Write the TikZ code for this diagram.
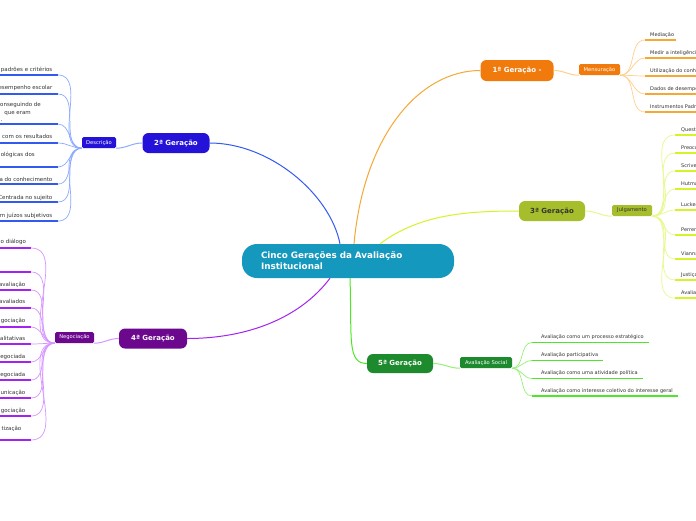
\documentclass[tikz,border=0pt]{standalone}
\usepackage{fontspec}
\setmainfont{DejaVu Sans}
\definecolor{txt}{RGB}{51,51,51}
\definecolor{mainc}{RGB}{21,152,190}
\definecolor{orN}{RGB}{240,122,12}
\definecolor{orL}{RGB}{246,168,52}
\definecolor{orF}{RGB}{255,208,140}
\definecolor{blN}{RGB}{37,18,216}
\definecolor{blL}{RGB}{50,90,240}
\definecolor{blF}{RGB}{140,170,255}
\definecolor{yeN}{RGB}{166,190,44}
\definecolor{yeL}{RGB}{215,242,40}
\definecolor{yeF}{RGB}{230,250,140}
\definecolor{puN}{RGB}{108,8,142}
\definecolor{puL}{RGB}{165,35,240}
\definecolor{puF}{RGB}{215,150,255}
\definecolor{grN}{RGB}{30,138,46}
\definecolor{grL}{RGB}{80,230,40}
\definecolor{grF}{RGB}{150,240,120}
\begin{document}
\begin{tikzpicture}[x=1pt,y=-1pt,
  gen/.style={rounded corners=6pt, minimum height=20pt, inner sep=0pt, font=\fontsize{7}{8}\selectfont\bfseries, text=white},
  sub/.style={rounded corners=1.5pt, minimum height=11pt, inner sep=0pt, font=\fontsize{5.2}{6}\selectfont, text=white},
  leafR/.style={anchor=mid west, inner sep=0pt, font=\fontsize{5}{6}\selectfont, text=txt},
  leafD/.style={anchor=mid east, inner sep=0pt, font=\fontsize{5.5}{6.5}\selectfont, text=txt},
  ul/.style={line width=1.4pt},
  fan/.style={line width=0.7pt},
  link/.style={line width=1pt}]
\useasboundingbox (0,0) rectangle (696,520);
\clip (0,0) rectangle (696,520);
\fill[white] (0,0) rectangle (696,520);

% central node
\node[fill=mainc, rounded corners=15pt, minimum width=212pt, minimum height=34pt, inner xsep=19pt, inner ysep=0pt,
      text width=174pt, align=left, text=white, font=\fontsize{8.8}{11}\selectfont\bfseries] (main) at (348,261)
      {Cinco Gerações da Avaliação\\Institucional};

% generation nodes
\node[gen, fill=orN, minimum width=73pt, minimum height=21pt] (g1) at (517,70.5) {1ª Geração -};
\node[gen, fill=blN, minimum width=67pt] (g2) at (176,143) {2ª Geração};
\node[gen, fill=yeN, minimum width=66pt, text=txt] (g3) at (552,211) {3ª Geração};
\node[gen, fill=puN, minimum width=68pt] (g4) at (153,338.5) {4ª Geração};
\node[gen, fill=grN, minimum width=66pt, minimum height=19pt] (g5) at (400,363.5) {5ª Geração};

% sub nodes
\node[sub, fill=orN, minimum width=41pt] (mens) at (599.5,69.5) {Mensuração};
\node[sub, fill=blN, minimum width=34pt] (desc) at (99,142.5) {Descrição};
\node[sub, fill=yeN, minimum width=40pt, text=txt] (julg) at (632,210.5) {Julgamento};
\node[sub, fill=puN, minimum width=39pt] (neg) at (74.5,337.5) {Negociação};
\node[sub, fill=grN, minimum width=52pt] (soc) at (486,362.5) {Avaliação Social};

% main links
\draw[link, blL] ([xshift=-8pt]main.north) .. controls +(-10,-50) and +(60,0) .. (g2.east);
\draw[link, orL] ([xshift=6pt]main.north) .. controls +(10,-110) and +(-60,0) .. (g1.west);
\draw[link, yeL] ([xshift=32pt]main.north) .. controls +(40,-30) and +(-50,0) .. (g3.west);
\draw[link, puL] ([xshift=-18pt]main.south) .. controls +(-30,40) and +(60,0) .. (g4.east);
\draw[link, grL] ([xshift=2pt]main.south) .. controls +(2,60) and +(-20,0) .. (g5.west);

% gen to sub
\draw[link, orF] (g1.east) to[out=0,in=180] (mens.south west);
\draw[link, blF] (g2.west) to[out=180,in=0] (desc.south east);
\draw[link, yeF] (g3.east) to[out=0,in=180] (julg.south west);
\draw[link, puF] (g4.west) to[out=180,in=0] (neg.south east);
\draw[link, grF] (g5.east) to[out=0,in=180] (soc.south west);

% Mensuração leaves
\foreach \i/\y/\t in {1/34/Mediação, 2/52/Medir a inteligência, 3/70/Utilização do conhecimento, 4/88/Dados de desempenho, 5/106/Instrumentos Padronizados}{
  \coordinate (m\i) at (645,\y+6);
  \node[leafR] (mt\i) at (650,\y) {\t};
  \draw[ul, orL] (m\i) -- (m\i -| mt\i.east) -- ++(2,0);
  \draw[fan, orF] (mens.south east) to[out=0,in=180] (m\i);
}

% Julgamento leaves
\foreach \i/\y/\t in {1/129/Questões de valor, 2/147/Preocupação com o mérito, 3/165/Scriven, 4/183/Hutmacher, 5/204/Luckesi, 6/229/Perrenoud, 7/253/Vianna, 8/274/Justiça, 9/292/Avaliação formativa}{
  \coordinate (j\i) at (675,\y+6);
  \node[leafR] (jt\i) at (681,\y) {\t};
  \draw[ul, yeL] (j\i) -- (j\i -| jt\i.east) -- ++(2,0);
  \draw[fan, yeF] (julg.south east) to[out=0,in=180] (j\i);
}

% Avaliação Social leaves
\foreach \i/\y/\t in {1/336/Avaliação como um processo estratégico, 2/354/Avaliação participativa, 3/372/Avaliação como uma atividade política, 4/389.5/Avaliação como interesse coletivo do interesse geral}{
  \coordinate (s\i) at (532,\y+6.5);
  \node[leafR] (st\i) at (541,\y) {\t};
  \draw[ul, grL] (s\i) -- (s\i -| st\i.east) -- ++(5,0);
  \draw[fan, grF] (soc.south east) to[out=0,in=180] (s\i);
}

% Descrição leaves
\foreach \i/\y/\u/\x/\t in {1/69/75/52.5/padrões e critérios, 2/87/94/52.5/esempenho escolar, 4/136/143/52.5/com os resultados, 5/154/167/35/ológicas dos, 6/179/184/52.5/a do conhecimento, 7/197/202/52.5/Centrada no sujeito, 8/215/221/52.5/m juízos subjetivos}{
  \coordinate (d\i) at (58,\u);
  \node[leafD] (dt\i) at (\x,\y) {\t};
  \draw[ul, blL] (d\i) -- (-5,\u);
  \draw[fan, blF] (desc.south west) to[out=180,in=0] (d\i);
}
\coordinate (d3) at (58,124);
\node[leafD] (dt3a) at (41,104) {onseguindo de};
\node[leafD] (dt3b) at (31,112) {que eram};
\node[leafD] (dt3c) at (2.5,119) {.};
\draw[ul, blL] (d3) -- (-5,124);
\draw[fan, blF] (desc.south west) to[out=180,in=0] (d3);

% Negociação leaves
\foreach \i/\y/\u/\x/\t in {3/284/290/25.5/avaliação, 4/301/308/25.5/avaliados, 5/320/327/25.5/gociação, 6/338/344/25.5/alitativas, 7/356/362/25.5/egociada, 8/374/380/25.5/egociada, 9/392/398/25.5/unicação, 10/410/416/25.5/gociação, 11/428/440/21.5/tização}{
  \coordinate (n\i) at (31,\u);
  \node[leafD] (nt\i) at (\x,\y) {\t};
  \draw[ul, puL] (n\i) -- (-5,\u);
  \draw[fan, puF] (neg.south west) to[out=180,in=0] (n\i);
}
\coordinate (n1) at (31,248);
\node[leafD, anchor=mid west] (nt1) at (0.5,241) {o diálogo};
\draw[ul, puL] (n1) -- (-5,248);
\draw[fan, puF] (neg.south west) to[out=180,in=0] (n1);
\coordinate (n2) at (31,272);
\draw[ul, puL] (n2) -- (-5,272);
\draw[fan, puF] (neg.south west) to[out=180,in=0] (n2);
\end{tikzpicture}
\end{document}
